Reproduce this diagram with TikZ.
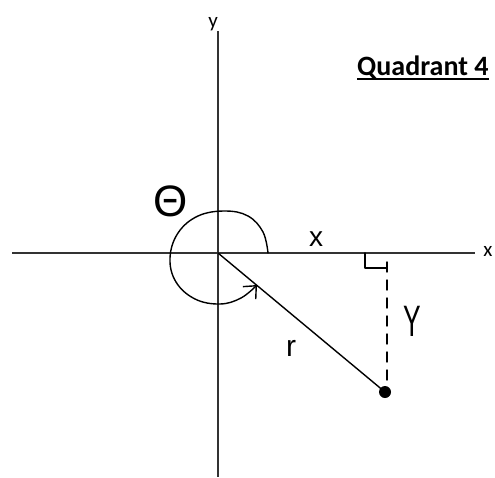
\documentclass[tikz,border=0pt]{standalone}
\usepackage{fontspec}
\newfontfamily\calibri{Carlito}
\newfontfamily\handfont{Liberation Sans}
\usetikzlibrary{arrows.meta}
\begin{document}
\begin{tikzpicture}[x=1pt,y=-1pt,
  axis/.style={line width=1.6pt,draw=black!80},
  ink/.style={line width=1.4pt,line cap=round,line join=round},
  axlbl/.style={font=\calibri\fontsize{21}{21}\selectfont,inner sep=0pt},
  handlbl/.style={inner sep=0pt}]
\useasboundingbox (0,0) rectangle (495,477);
% key points
\coordinate (O) at (218,253);
\coordinate (ytop) at (218,31);
\coordinate (ybot) at (218,477);
\coordinate (xleft) at (12,253);
\coordinate (xright) at (475,253);
\coordinate (P) at (385,392);
\coordinate (ra) at (365,253);
\coordinate (rb) at (365,268);
\coordinate (rc) at (387,268);
\coordinate (dtop) at (387,262);
\coordinate (dbot) at (387,380);
% axes
\draw[axis] (xleft) -- (xright);
\draw[axis] (ytop) -- (ybot);
\node[axlbl] (xl) at (488,251) {x};
\node[axlbl] (yl) at (213,24) {y};
% title
\node[anchor=base west,inner sep=0pt,font=\calibri\bfseries\fontsize{28}{28}\selectfont] (title) at (357,75) {Quadrant 4};
\draw[line width=2pt] ([yshift=-4pt]title.base west) -- ([yshift=-4pt]title.base east);
% radius line and point
\draw[ink] (O) -- (P);
\fill (P) circle (6);
% right angle mark and dashed drop
\draw[ink] (ra) -- (rb) -- (rc);
\draw[ink,dash pattern=on 10pt off 8pt] (dtop) -- (dbot);
% angle arc
\draw[ink,-{Straight Barb[length=10pt,width=18pt]}] plot[smooth,tension=0.65] coordinates
  {(268,253) (263,232) (248,216) (225,211) (198,216) (178,233) (170,258) (176,282) (195,299) (220,304) (241,298) (257,285)};
% hand labels
\node[handlbl,font=\handfont\fontsize{44}{44}\selectfont] (theta) at (171,201) {Θ};
\node[handlbl,font=\handfont\fontsize{28}{28}\selectfont] (xh) at (316,239) {x};
\node[handlbl,font=\handfont\fontsize{44}{44}\selectfont] (yh) at (412,321) {\scalebox{0.6}[1]{Y}};
\node[handlbl,font=\handfont\fontsize{30}{30}\selectfont] (rh) at (291,348) {r};
\end{tikzpicture}
\end{document}
